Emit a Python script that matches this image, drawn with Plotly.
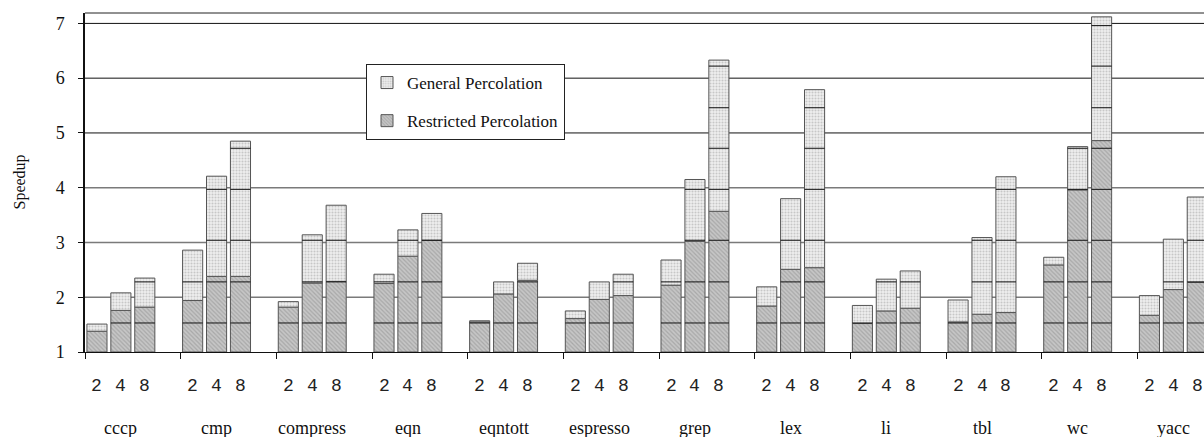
import plotly.graph_objects as go

# Benchmarks and processor counts shown under each group
benchmarks = ["cccp", "cmp", "compress", "eqn", "eqntott", "espresso",
              "grep", "lex", "li", "tbl", "wc", "yacc"]
processors = ["2", "4", "8"]

# Speedup reached with restricted percolation (per benchmark: 2, 4, 8 issue)
restricted_speedup = [
    [1.38, 1.76, 1.82],   # cccp
    [1.94, 2.38, 2.38],   # cmp
    [1.82, 2.26, 2.29],   # compress
    [2.25, 2.75, 3.04],   # eqn
    [1.55, 2.06, 2.31],   # eqntott
    [1.61, 1.96, 2.03],   # espresso
    [2.22, 3.02, 3.57],   # grep
    [1.84, 2.51, 2.54],   # lex
    [1.52, 1.75, 1.80],   # li
    [1.55, 1.69, 1.72],   # tbl
    [2.59, 3.96, 4.86],   # wc
    [1.67, 2.14, 2.27],   # yacc
]

# Speedup reached with general percolation
general_speedup = [
    [1.51, 2.08, 2.35],   # cccp
    [2.86, 4.21, 4.85],   # cmp
    [1.92, 3.14, 3.68],   # compress
    [2.42, 3.23, 3.53],   # eqn
    [1.57, 2.28, 2.62],   # eqntott
    [1.75, 2.28, 2.42],   # espresso
    [2.68, 4.15, 6.33],   # grep
    [2.19, 3.80, 5.79],   # lex
    [1.85, 2.33, 2.48],   # li
    [1.95, 3.09, 4.20],   # tbl
    [2.73, 4.75, 7.12],   # wc
    [2.03, 3.06, 3.83],   # yacc
]

# Fixed levels where the bar fill is ruled across
band_levels = [1.53, 2.28, 3.04, 3.97, 4.72, 5.46, 6.22, 6.96]

y_ticks = [1, 2, 3, 4, 5, 6, 7]

# ---- layout helpers -------------------------------------------------------
slots_per_group = len(processors) + 1      # three bars plus one empty slot
bar_width = 0.84
W, H = 1204, 437
ML, MR, MT, MB = 85, 0, 13, 85
slot_px = 23.92
x_max = -0.5 + (W - ML - MR) / slot_px
y_min, y_max = 1, 7.19

xs, base_r, h_r, base_g, h_g = [], [], [], [], []
for g, name in enumerate(benchmarks):
    for p in range(len(processors)):
        pos = g * slots_per_group + p
        r = restricted_speedup[g][p]
        t = general_speedup[g][p]
        xs.append(pos)
        base_r.append(1)
        h_r.append(r - 1)
        base_g.append(r)
        h_g.append(t - r)

fig = go.Figure()

fig.add_trace(go.Bar(
    x=xs, y=h_r, base=base_r, width=bar_width,
    name="Restricted Percolation", legendgroup="restricted", legendrank=2,
    marker=dict(color="#c2c2c2",
                line=dict(color="#555", width=1),
                pattern=dict(shape="\\", size=3, solidity=0.4,
                             fgcolor="#8a8a8a", bgcolor="#c6c6c6")),
    hoverinfo="skip",
))
fig.add_trace(go.Bar(
    x=xs, y=h_g, base=base_g, width=bar_width,
    name="General Percolation", legendgroup="general", legendrank=1,
    marker=dict(color="#eeeeee",
                line=dict(color="#555", width=1),
                pattern=dict(shape=".", size=3, solidity=0.4,
                             fgcolor="#a0a0a0", bgcolor="#efefef")),
    hoverinfo="skip",
))

# Rules across each bar at the band levels it reaches
lx, ly = [], []
for g in range(len(benchmarks)):
    for p in range(len(processors)):
        pos = g * slots_per_group + p
        top = general_speedup[g][p]
        for lvl in band_levels:
            if lvl < top - 0.02:
                lx += [pos - bar_width / 2, pos + bar_width / 2, None]
                ly += [lvl, lvl, None]
fig.add_trace(go.Scatter(x=lx, y=ly, mode="lines",
                         line=dict(color="#111", width=1),
                         showlegend=False, hoverinfo="skip"))

# Horizontal grid rules: black in the upper part, grey lower down
shapes = []
for v in y_ticks[1:]:
    dark = v >= 5
    shapes.append(dict(type="line", xref="paper", yref="y", x0=0, x1=1,
                       y0=v, y1=v, layer="below",
                       line=dict(color="#111" if dark else "#7a7a7a",
                                 width=1 if dark else 1.6)))
# top frame
shapes.append(dict(type="line", xref="paper", yref="paper", x0=0, x1=1,
                   y0=1, y1=1, line=dict(color="#222", width=1)))

annotations = []
plot_h = H - MT - MB
for g, name in enumerate(benchmarks):
    for p, lab in enumerate(processors):
        annotations.append(dict(
            x=g * slots_per_group + p, xref="x",
            y=-(386 - (H - MB)) / plot_h, yref="paper",
            text=lab, showarrow=False, yanchor="middle", xanchor="center",
            font=dict(family="Liberation Mono", size=18, color="#222")))
    annotations.append(dict(
        x=g * slots_per_group + 1, xref="x",
        y=-(428 - (H - MB)) / plot_h, yref="paper",
        text=name, showarrow=False, yanchor="middle", xanchor="center",
        font=dict(family="Liberation Serif", size=18, color="#111")))

annotations.append(dict(
    x=0, xref="paper", xshift=-66, y=0.5, yref="paper",
    text="Speedup", textangle=-90, showarrow=False,
    xanchor="center", yanchor="middle",
    font=dict(family="Liberation Serif", size=16, color="#111")))

group_edges = [g * slots_per_group - 0.5 for g in range(len(benchmarks) + 1)]

fig.update_layout(
    width=W, height=H,
    margin=dict(l=ML, r=MR, t=MT, b=MB, pad=0),
    paper_bgcolor="white", plot_bgcolor="white",
    barmode="overlay",
    showlegend=True,
    legend=dict(
        x=(366 - ML) / (W - ML - MR), y=(H - MB - 64) / plot_h,
        xanchor="left", yanchor="top",
        traceorder="grouped", tracegroupgap=13,
        bgcolor="white", bordercolor="#222", borderwidth=1,
        font=dict(family="Liberation Serif", size=17, color="#111"),
        itemwidth=30,
    ),
    xaxis=dict(
        range=[-0.5, x_max], showgrid=False, zeroline=False,
        showline=True, linecolor="#111", linewidth=1,
        tickmode="array", tickvals=group_edges,
        ticks="outside", ticklen=6, tickcolor="#111", tickwidth=1,
        showticklabels=False,
    ),
    yaxis=dict(
        range=[y_min, y_max], showgrid=False, zeroline=False,
        showline=True, linecolor="#111", linewidth=1.5,
        tickmode="array", tickvals=y_ticks,
        ticks="outside", ticklen=5, tickcolor="#111",
        ticklabelstandoff=10,
        tickfont=dict(family="Liberation Serif", size=18, color="#111"),
    ),
    shapes=shapes,
    annotations=annotations,
)

fig.write_html("out.html")
